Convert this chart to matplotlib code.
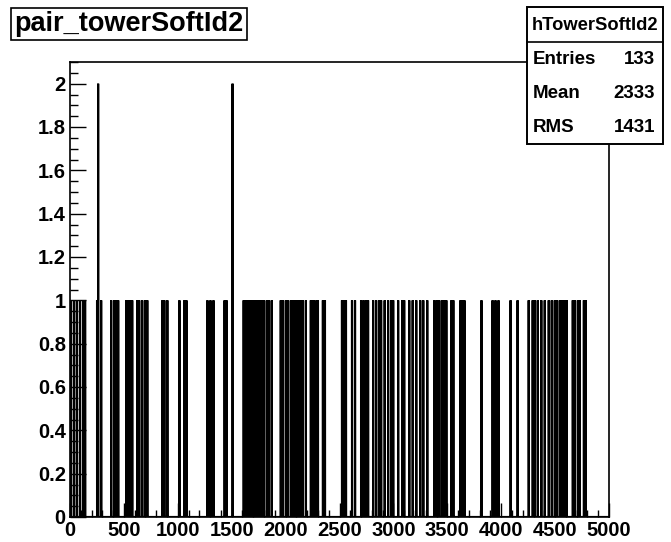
import numpy as np
import matplotlib
matplotlib.use("Agg")
import matplotlib.pyplot as plt
from matplotlib.patches import Rectangle
from matplotlib.lines import Line2D
from matplotlib.ticker import MultipleLocator, FuncFormatter

# ---- data: tower soft ids with one entry each; two ids filled twice ----
single_ids = [10, 38, 65, 93, 121, 140,
              251, 289, 382, 410, 428, 447, 521, 540, 559, 577,
              624, 642, 670, 698, 717, 857, 875, 903, 1015, 1061, 1080,
              1275, 1303, 1331, 1434, 1452,
              1611, 1629, 1648, 1666, 1685, 1704, 1722, 1741, 1760, 1778, 1797,
              1825, 1843, 1871, 1955, 1974, 2002, 2020,
              2048, 2067, 2085, 2104, 2123, 2141, 2160, 2188,
              2234, 2248, 2262, 2286, 2300, 2346, 2365,
              2523, 2542, 2560, 2616, 2644, 2700, 2723, 2746, 2765,
              2812, 2840, 2867, 2886, 2919, 2951, 2979, 2998, 3044, 3082, 3100,
              3147, 3179, 3212, 3249, 3277, 3314, 3380, 3403, 3426,
              3454, 3473, 3491, 3538, 3556, 3622, 3640, 3659, 3817,
              3920, 3947, 3975, 4087, 4152, 4255, 4292, 4311,
              4339, 4372, 4404, 4441, 4469, 4497, 4515, 4543, 4562,
              4581, 4594, 4608, 4664, 4683, 4711, 4729, 4767, 4785]
double_ids = [261, 1508]

hist_name = "hTowerSoftId2"
title = "pair_towerSoftId2"
stats_labels = ["Entries", "Mean", "RMS"]
stats_values = ["133", "2333", "1431"]
x_range = (0, 5000)
n_bins = 5000

# ---- figure ----
W, H = 671, 542
fig = plt.figure(figsize=(W / 100, H / 100), dpi=100)
L, R, T, B = 70, 609, 62, 517
ax = fig.add_axes([L / W, 1 - B / H, (R - L) / W, (B - T) / H])

edges = np.linspace(x_range[0], x_range[1], n_bins + 1)
entries = np.array(single_ids + double_ids + double_ids, dtype=float) + 0.5
counts, _ = np.histogram(entries, bins=edges)
ax.stairs(counts, edges, color="black", linewidth=1.55, baseline=0)

ax.set_xlim(*x_range)
ax.set_ylim(0, 2.1)

font = "Liberation Sans"
ax.xaxis.set_major_locator(MultipleLocator(500))
ax.xaxis.set_minor_locator(MultipleLocator(100))
ax.yaxis.set_major_locator(MultipleLocator(0.2))
ax.yaxis.set_minor_locator(MultipleLocator(0.05))
ax.yaxis.set_major_formatter(FuncFormatter(lambda v, p: "%g" % round(v, 2)))
ax.xaxis.set_major_formatter(FuncFormatter(lambda v, p: "%g" % v))
ax.tick_params(axis="x", which="major", direction="in", length=10, width=1, pad=3)
ax.tick_params(axis="x", which="minor", direction="in", length=5, width=1)
ax.tick_params(axis="y", which="major", direction="in", length=11.5, width=1, pad=3)
ax.tick_params(axis="y", which="minor", direction="in", length=5.8, width=1)
for lab in ax.get_xticklabels() + ax.get_yticklabels():
    lab.set_fontfamily(font)
    lab.set_fontweight("bold")
    lab.set_fontsize(14.5)
for s in ax.spines.values():
    s.set_linewidth(1.2)

# ---- title box ----
fig.text(14 / W, 1 - 24 / H, title, fontsize=19.5, fontweight="bold", family=font,
         ha="left", va="center",
         bbox=dict(boxstyle="square,pad=0.12", fc="white", ec="black", lw=1.2))

# ---- stats box ----
bx0, bx1, by0, by1 = 527, 663, 7, 144
fig.add_artist(Rectangle((bx0 / W, 1 - by1 / H), (bx1 - bx0) / W, (by1 - by0) / H,
                         transform=fig.transFigure, fc="white", ec="black", lw=1.4,
                         zorder=5))
fig.add_artist(Line2D([bx0 / W, bx1 / W], [1 - 42 / H, 1 - 42 / H],
                      transform=fig.transFigure, color="black", lw=1.2, zorder=6))
fig.text((bx0 + bx1) / 2 / W, 1 - 25 / H, hist_name, fontsize=13.2, fontweight="bold",
         family=font, ha="center", va="center", zorder=7)
row_y = [59, 93, 127]
for lab, val, yy in zip(stats_labels, stats_values, row_y):
    fig.text(533 / W, 1 - yy / H, lab, fontsize=13.5, fontweight="bold", family=font,
             ha="left", va="center", zorder=7)
    fig.text(655 / W, 1 - yy / H, val, fontsize=13.5, fontweight="bold", family=font,
             ha="right", va="center", zorder=7)

fig.savefig("out.png", dpi=100)
